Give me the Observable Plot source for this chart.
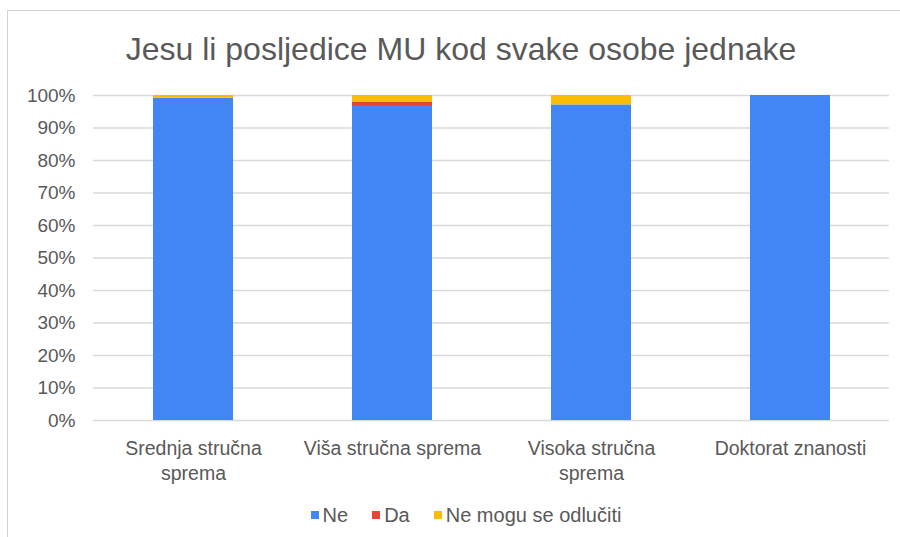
<!DOCTYPE html>
<html>
<head>
<meta charset="utf-8">
<script src="https://cdn.jsdelivr.net/npm/d3@7"></script>
<script src="https://cdn.jsdelivr.net/npm/@observablehq/plot@0.6"></script>
<style>
  html, body { margin: 0; padding: 0; background: #fff; }
  body { width: 900px; height: 537px; overflow: hidden; position: relative; font-family: "Liberation Sans", Arial, sans-serif; }
  #frame { position: absolute; left: 7px; top: 10px; width: 893px; height: 527px;
           border-top: 1.5px solid #d4d4d4; border-left: 1.5px solid #d4d4d4; box-sizing: border-box; }
  #title { height: 64px; padding-top: 18px; margin-bottom: 0; box-sizing: border-box;
           font-size: 32px; line-height: 40px; color: #595959; text-align: center; padding-left: 14px; white-space: nowrap; }
  #chart svg { display: block; }
  #legend { display: flex; justify-content: center; align-items: center; gap: 0; padding-left: 24px;
            font-size: 20px; color: #595959; height: 40px; padding-top: 0; box-sizing: border-box; }
  .item { display: flex; align-items: center; margin: 0 12px; }
  .sw { width: 8px; height: 8px; margin-right: 4px; }
</style>
</head>
<body>
<div id="frame">
  <div id="title">Jesu li posljedice MU kod svake osobe jednake</div>
  <div id="chart"></div>
  <div id="legend"></div>
</div>
<script>
const categories = ["Srednja stručna sprema", "Viša stručna sprema", "Visoka stručna sprema", "Doktorat znanosti"];
const categoryLabels = ["Srednja stručna\nsprema", "Viša stručna sprema", "Visoka stručna\nsprema", "Doktorat znanosti"];
const seriesNames = ["Ne", "Da", "Ne mogu se odlučiti"];
const seriesColors = ["#4285F4", "#EA4335", "#FBBC04"];
const ne = [99.2, 96.6, 97.1, 100];
const da = [0, 1.4, 0, 0];
const neMogu = [0.8, 2.0, 2.9, 0];
const yTicks = [0, 10, 20, 30, 40, 50, 60, 70, 80, 90, 100];

const seriesValues = [ne, da, neMogu];
const data = [];
seriesNames.forEach((s, si) => {
  categories.forEach((c, ci) => data.push({cat: c, series: s, value: seriesValues[si][ci]}));
});

const font = "'Liberation Sans', Arial, sans-serif";
const textColor = "#595959";

const chart = Plot.plot({
  width: 892,
  height: 420,
  marginLeft: 85,
  marginRight: 11,
  marginTop: 20,
  marginBottom: 75,
  style: {fontFamily: font, background: "#fff", overflow: "visible"},
  x: {domain: categories, paddingInner: 0.6, paddingOuter: 0.3, axis: null},
  y: {domain: [0, 100], ticks: yTicks, axis: null},
  color: {domain: seriesNames, range: seriesColors},
  marks: [
    Plot.gridY(yTicks, {stroke: "#d9d9d9", strokeOpacity: 1, strokeWidth: 1.5}),
    Plot.axisY(yTicks, {tickSize: 0, tickPadding: 18, tickFormat: d => d + "%", fontSize: 19, fill: textColor, label: null}),
    Plot.barY(data, {x: "cat", y: "value", fill: "series", order: seriesNames}),
    Plot.text(categories, {x: d => d, y: () => 0, text: (d, i) => categoryLabels[i], lineAnchor: "top", dy: 16.5, lineHeight: 1.3, fontSize: 19.5, fill: textColor})
  ]
});
document.getElementById("chart").appendChild(chart);

const legend = document.getElementById("legend");
seriesNames.forEach((s, i) => {
  const it = document.createElement("div");
  it.className = "item";
  const sw = document.createElement("span");
  sw.className = "sw";
  sw.style.background = seriesColors[i];
  const lb = document.createElement("span");
  lb.textContent = s;
  it.appendChild(sw); it.appendChild(lb);
  legend.appendChild(it);
});
</script>
</body>
</html>
